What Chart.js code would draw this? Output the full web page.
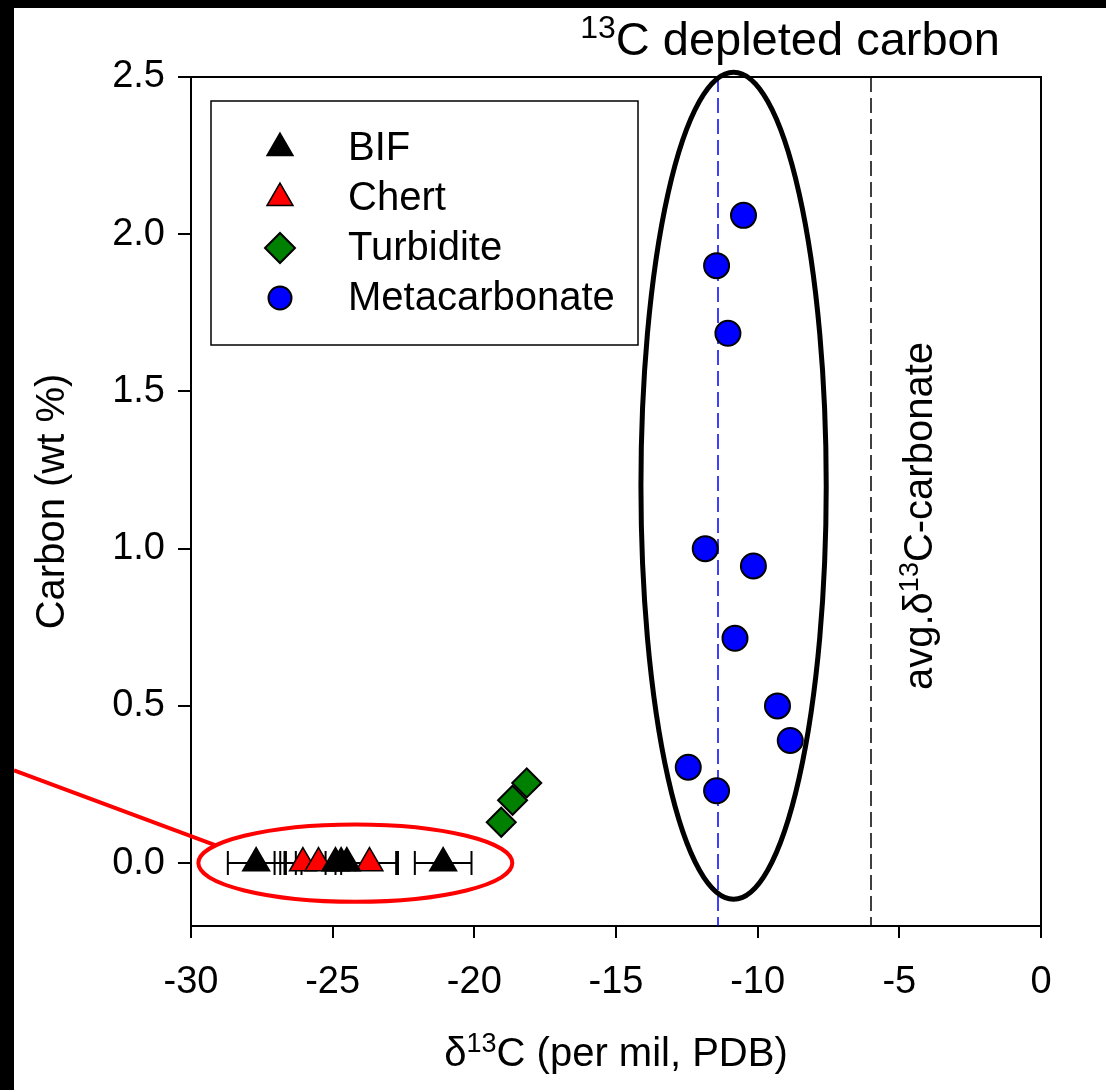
<!DOCTYPE html>
<html>
<head>
<meta charset="utf-8">
<title>Carbon vs d13C</title>
<script src="https://cdn.jsdelivr.net/npm/chart.js@4.4.0/dist/chart.umd.min.js"></script>
<style>
  html, body { margin: 0; padding: 0; background: #000; }
  #wrap { position: absolute; left: 14px; top: 8px; width: 1092px; height: 1082px; background: #fff; }
</style>
</head>
<body>
<div id="wrap"><canvas id="chart" width="1092" height="1082"></canvas></div>
<script>
// values
const bifX = [-27.7, -24.9, -24.7, -24.5, -21.1];
const bifY = [0, 0, 0, 0, 0];
const bifErr = [1.0, 2.15, 1.95, 1.8, 1.0];

const chertX = [-26.05, -25.5, -23.7];
const chertY = [0, 0, 0];
const chertErr = [0.8, 0.6, 1.0];

const turbX = [-19.05, -18.65, -18.15];
const turbY = [0.13, 0.2, 0.255];

const metaX = [-10.5, -11.45, -11.05, -11.85, -10.15, -10.8, -9.3, -8.85, -12.45, -11.45];
const metaY = [2.06, 1.9, 1.685, 1.0, 0.945, 0.715, 0.5, 0.39, 0.305, 0.23];

const xTicks = [-30, -25, -20, -15, -10, -5, 0];
const yTicks = [0, 0.5, 1.0, 1.5, 2.0, 2.5];

// reference lines and outlines (data units)
const metaLineX = -11.4;
const carbonateAvgX = -6;
const depletedEllipse = { cx: -10.85, cy: 1.2, rx: 3.27, ry: 1.315 };
const organicEllipse = { cx: -24.2, cy: 0, rx: 5.54, ry: 0.123 };
const calloutStartY = 0.295;
const calloutEnd = { x: -29.15, y: 0.057 };

const FONT = '"Liberation Sans", Arial, sans-serif';

function pts(xs, ys) {
  return xs.map((x, i) => ({ x: x, y: ys[i] }));
}

function drawRich(ctx, parts, x, y, size, align) {
  const sup = Math.round(size * 0.68);
  const widths = parts.map(p => {
    ctx.font = (p.sup ? sup : size) + 'px ' + FONT;
    return ctx.measureText(p.t).width;
  });
  const total = widths.reduce((s, w) => s + w, 0);
  let cx = align === 'center' ? x - total / 2 : x;
  ctx.textAlign = 'left';
  ctx.textBaseline = 'alphabetic';
  parts.forEach((p, i) => {
    ctx.font = (p.sup ? sup : size) + 'px ' + FONT;
    ctx.fillText(p.t, cx, p.sup ? y - size * 0.36 : y);
    cx += widths[i];
  });
}

function ellipse(ctx, sx, sy, e) {
  const px = sx.getPixelForValue(e.cx), py = sy.getPixelForValue(e.cy);
  const rx = Math.abs(sx.getPixelForValue(e.cx + e.rx) - px);
  const ry = Math.abs(sy.getPixelForValue(e.cy + e.ry) - py);
  ctx.beginPath();
  ctx.ellipse(px, py, rx, ry, 0, 0, Math.PI * 2);
  ctx.stroke();
}

const extras = {
  id: 'extras',
  beforeDatasetsDraw(chart) {
    const { ctx, chartArea: a } = chart;
    const sx = chart.scales.x, sy = chart.scales.y;
    ctx.save();

    // dashed reference lines
    ctx.lineWidth = 1.5;
    ctx.setLineDash([15, 6]);
    ctx.strokeStyle = '#0000ff';
    let px = sx.getPixelForValue(metaLineX);
    ctx.beginPath(); ctx.moveTo(px, a.top); ctx.lineTo(px, a.bottom); ctx.stroke();
    ctx.strokeStyle = '#000';
    px = sx.getPixelForValue(carbonateAvgX);
    ctx.beginPath(); ctx.moveTo(px, a.top); ctx.lineTo(px, a.bottom); ctx.stroke();
    ctx.setLineDash([]);

    // error bars
    ctx.strokeStyle = '#000';
    ctx.lineWidth = 2;
    [[bifX, bifY, bifErr], [chertX, chertY, chertErr]].forEach(([xs, ys, es]) => {
      xs.forEach((x, i) => {
        const l = sx.getPixelForValue(x - es[i]);
        const r = sx.getPixelForValue(x + es[i]);
        const y = sy.getPixelForValue(ys[i]);
        ctx.beginPath();
        ctx.moveTo(l, y); ctx.lineTo(r, y);
        ctx.moveTo(l, y - 12); ctx.lineTo(l, y + 12);
        ctx.moveTo(r, y - 12); ctx.lineTo(r, y + 12);
        ctx.stroke();
      });
    });

    // outlines
    ctx.strokeStyle = '#000';
    ctx.lineWidth = 5;
    ellipse(ctx, sx, sy, depletedEllipse);
    ctx.strokeStyle = '#ff0000';
    ctx.lineWidth = 4;
    ellipse(ctx, sx, sy, organicEllipse);
    ctx.beginPath();
    ctx.moveTo(0, sy.getPixelForValue(calloutStartY));
    ctx.lineTo(sx.getPixelForValue(calloutEnd.x), sy.getPixelForValue(calloutEnd.y));
    ctx.stroke();
    ctx.restore();
  },
  afterDraw(chart) {
    const { ctx, chartArea: a } = chart;
    ctx.save();
    ctx.strokeStyle = '#000';
    ctx.lineWidth = 2;
    ctx.beginPath();
    ctx.moveTo(a.left, a.top); ctx.lineTo(a.right, a.top); ctx.lineTo(a.right, a.bottom);
    ctx.stroke();

    // legend box
    ctx.lineWidth = 1.5;
    ctx.strokeRect(a.left + 20, a.top + 24, 427, 244);
    chart.data.datasets.forEach((ds, i) => {
      const y = a.top + 71 + i * 50;
      ctx.fillStyle = ds.backgroundColor;
      ctx.strokeStyle = ds.borderColor;
      ctx.lineWidth = ds.borderWidth;
      Chart.helpers.drawPoint(ctx, {
        pointStyle: ds.pointStyle,
        radius: ds.legendRadius,
        borderWidth: ds.borderWidth,
        rotation: 0
      }, a.left + 89, y);
      ctx.fillStyle = '#000';
      ctx.font = '40px ' + FONT;
      ctx.textAlign = 'left';
      ctx.textBaseline = 'middle';
      ctx.fillText(ds.label, a.left + 157, y + 1);
    });

    ctx.fillStyle = '#000';
    // title
    drawRich(ctx, [{ t: '13', sup: true }, { t: 'C depleted carbon' }], 776, 47, 47, 'center');
    // x title
    drawRich(ctx, [{ t: 'δ' }, { t: '13', sup: true }, { t: 'C (per mil, PDB)' }],
      (a.left + a.right) / 2, 1058, 40, 'center');
    // y title
    ctx.save();
    ctx.translate(50, (a.top + a.bottom) / 2);
    ctx.rotate(-Math.PI / 2);
    drawRich(ctx, [{ t: 'Carbon (wt %)' }], 0, 0, 40, 'center');
    ctx.restore();
    // carbonate label
    ctx.save();
    ctx.translate(918, 682);
    ctx.rotate(-Math.PI / 2);
    drawRich(ctx, [{ t: 'avg.δ' }, { t: '13', sup: true }, { t: 'C-carbonate' }], 0, 0, 40, 'left');
    ctx.restore();
    ctx.restore();
  }
};

new Chart(document.querySelector('#chart'), {
  type: 'scatter',
  data: {
    datasets: [
      {
        label: 'BIF',
        data: pts(bifX, bifY),
        pointStyle: 'triangle',
        pointRadius: 15.5,
        legendRadius: 15,
        backgroundColor: '#000000',
        borderColor: '#000000',
        borderWidth: 1.5,
      },
      {
        label: 'Chert',
        data: pts(chertX, chertY),
        pointStyle: 'triangle',
        pointRadius: 15.5,
        legendRadius: 15,
        backgroundColor: '#ff0000',
        borderColor: '#000000',
        borderWidth: 1.5,
      },
      {
        label: 'Turbidite',
        data: pts(turbX, turbY),
        pointStyle: 'rectRot',
        pointRadius: 14.5,
        legendRadius: 15,
        backgroundColor: '#008000',
        borderColor: '#000000',
        borderWidth: 2,
      },
      {
        label: 'Metacarbonate',
        data: pts(metaX, metaY),
        pointStyle: 'circle',
        pointRadius: 12.5,
        legendRadius: 11.5,
        backgroundColor: '#0000ff',
        borderColor: '#000000',
        borderWidth: 2,
      },
    ],
  },
  options: {
    responsive: false,
    animation: false,
    events: [],
    layout: { padding: { top: 69, right: 65, left: 0, bottom: 0 } },
    plugins: {
      legend: { display: false },
      tooltip: { enabled: false },
    },
    scales: {
      x: {
        type: 'linear',
        min: -30,
        max: 0,
        afterFit(s) { s.height = 164; },
        afterBuildTicks(s) { s.ticks = xTicks.map(v => ({ value: v })); },
        grid: { drawOnChartArea: false, drawTicks: true, tickLength: 12, color: '#000', lineWidth: 2 },
        border: { display: true, color: '#000', width: 2 },
        ticks: {
          color: '#000',
          font: { family: FONT, size: 38 },
          padding: 22,
          maxRotation: 0,
          callback: v => String(v),
        },
      },
      y: {
        type: 'linear',
        min: -0.2,
        max: 2.5,
        afterFit(s) { s.width = 177; },
        afterBuildTicks(s) { s.ticks = yTicks.map(v => ({ value: v })); },
        grid: { drawOnChartArea: false, drawTicks: true, tickLength: 13, color: '#000', lineWidth: 2 },
        border: { display: true, color: '#000', width: 2 },
        ticks: {
          color: '#000',
          font: { family: FONT, size: 38 },
          padding: 13,
          callback: v => Number(v).toFixed(1),
        },
      },
    },
  },
  plugins: [extras],
});
</script>
</body>
</html>
